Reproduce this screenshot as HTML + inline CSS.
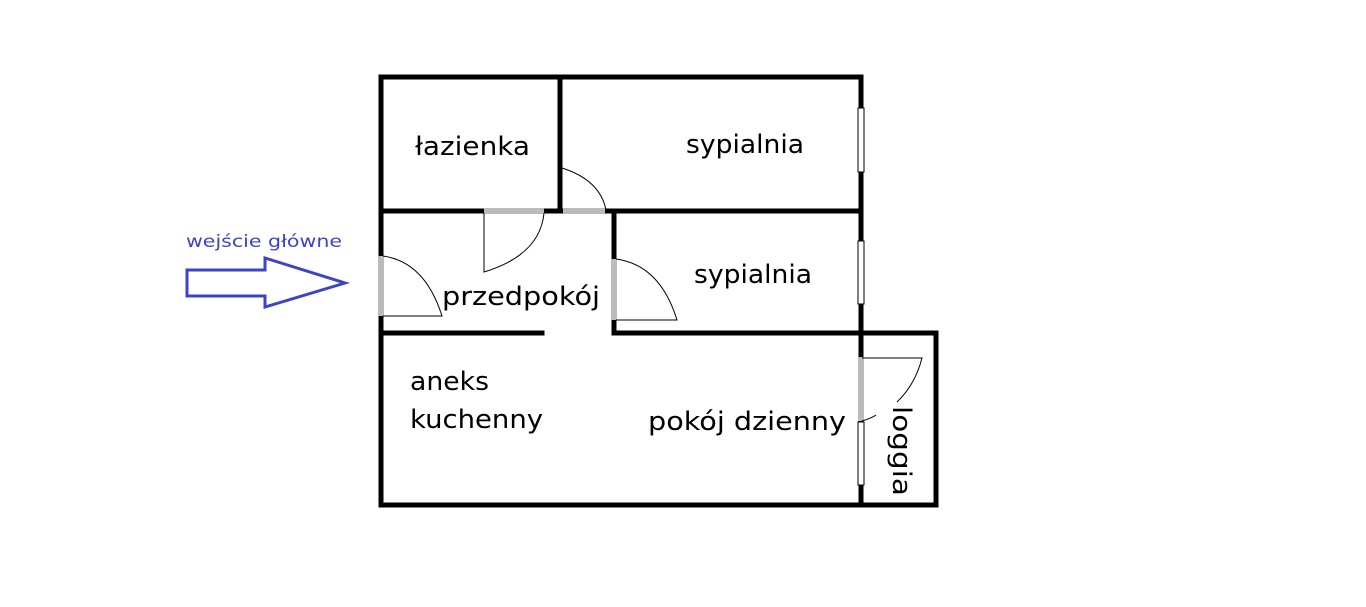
<!DOCTYPE html>
<html><head><style>body{margin:0;background:#fff}svg{display:block}</style></head><body>
<svg width="1366" height="607" xmlns="http://www.w3.org/2000/svg" font-family="DejaVu Sans, Liberation Sans, sans-serif">
<rect width="1366" height="607" fill="#fff"/>
<g stroke="#000" stroke-width="5" fill="none" stroke-linecap="square">
<path d="M381 77 H861 V505 H381 Z"/>
<path d="M560 77 V210"/>
<path d="M381 211 H861"/>
<path d="M614 211 V333"/>
<path d="M381 333 H542"/>
<path d="M614 333 H936 V505 H861"/>
</g>
<g stroke="#bbb" stroke-width="6">
<line x1="484" y1="211" x2="544" y2="211"/>
<line x1="563" y1="211" x2="605" y2="211"/>
<line x1="381" y1="256" x2="381" y2="316"/>
<line x1="614" y1="259" x2="614" y2="320"/>
<line x1="861" y1="357" x2="861" y2="421"/>
</g>
<g fill="#fff" stroke="#000" stroke-width="1">
<rect x="858" y="108" width="6" height="64"/>
<rect x="858" y="241" width="6" height="63"/>
<rect x="858" y="422" width="6" height="63"/>
</g>
<g stroke="#000" stroke-width="1" fill="none">
<path d="M484 213 V272 Q540 255 544 213"/>
<path d="M562 168 Q600 180 606 210"/>
<path d="M383 316 H442 Q425 262 383 256"/>
<path d="M616 320 H677 Q660 265 616 259"/>
<path d="M862 358 H922 Q915 385 897 402"/>
<path d="M862 421 Q872 418 876 415"/>
</g>
<g font-size="26" fill="#000" lengthAdjust="spacingAndGlyphs">
<text x="415" y="155" textLength="115" lengthAdjust="spacingAndGlyphs">łazienka</text>
<text x="686" y="153" textLength="118" lengthAdjust="spacingAndGlyphs">sypialnia</text>
<text x="694" y="283" textLength="118" lengthAdjust="spacingAndGlyphs">sypialnia</text>
<text x="442" y="305" textLength="158" lengthAdjust="spacingAndGlyphs">przedpokój</text>
<text x="410" y="390" textLength="79" lengthAdjust="spacingAndGlyphs">aneks</text>
<text x="410" y="428" textLength="133" lengthAdjust="spacingAndGlyphs">kuchenny</text>
<text x="648" y="430" textLength="198" lengthAdjust="spacingAndGlyphs">pokój dzienny</text>
<text transform="translate(893,406) rotate(90)" textLength="90" lengthAdjust="spacingAndGlyphs">loggia</text>
</g>
<text x="186" y="247" font-size="17" fill="#3b44c4" textLength="156" lengthAdjust="spacingAndGlyphs">wejście główne</text>
<path d="M187 270 H265 V258 L345 283 L265 307 V296 H187 Z" fill="none" stroke="#3b44c4" stroke-width="3"/>
</svg>
</body></html>
